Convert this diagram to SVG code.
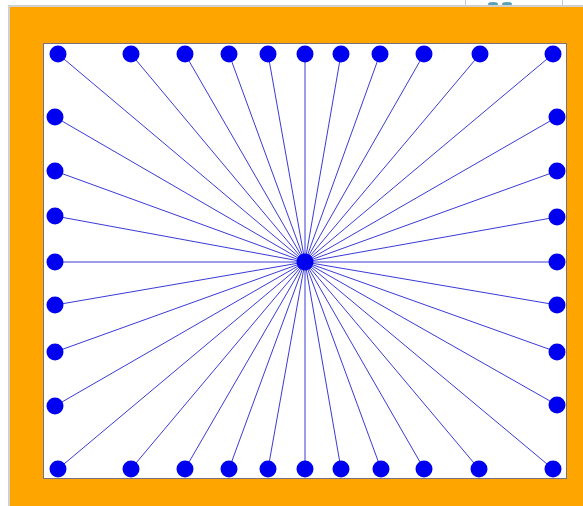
<svg xmlns="http://www.w3.org/2000/svg" width="583" height="506" viewBox="0 0 583 506">
<style>
.edge{stroke:#3a3ad8;stroke-width:1;fill:none}
.node{fill:#0000f0}
</style>
<rect x="0" y="0" width="583" height="506" fill="#ffffff"/>
<line x1="465.5" y1="0" x2="465.5" y2="6" stroke="#c8c8c8"/>
<line x1="562.5" y1="0" x2="562.5" y2="6" stroke="#c8c8c8"/>
<ellipse cx="493" cy="4" rx="5" ry="2" fill="#5aa0b8"/>
<ellipse cx="507" cy="4" rx="5" ry="2" fill="#5aa0b8"/>
<rect x="8" y="5" width="575" height="501" fill="#d0d0d0"/>
<rect x="10" y="7" width="573" height="499" fill="#ffa500"/>
<rect x="43.5" y="43.5" width="523" height="435" fill="#ffffff" stroke="#7a7080" stroke-width="1"/>
<g id="edges">
<line class="edge" x1="305" y1="262" x2="58" y2="54"/>
<line class="edge" x1="305" y1="262" x2="131" y2="54"/>
<line class="edge" x1="305" y1="262" x2="185" y2="54"/>
<line class="edge" x1="305" y1="262" x2="229" y2="54"/>
<line class="edge" x1="305" y1="262" x2="268" y2="54"/>
<line class="edge" x1="305" y1="262" x2="305" y2="54"/>
<line class="edge" x1="305" y1="262" x2="341" y2="54"/>
<line class="edge" x1="305" y1="262" x2="380" y2="54"/>
<line class="edge" x1="305" y1="262" x2="424" y2="54"/>
<line class="edge" x1="305" y1="262" x2="480" y2="54"/>
<line class="edge" x1="305" y1="262" x2="553" y2="54"/>
<line class="edge" x1="305" y1="262" x2="58" y2="469"/>
<line class="edge" x1="305" y1="262" x2="131" y2="469"/>
<line class="edge" x1="305" y1="262" x2="185" y2="469"/>
<line class="edge" x1="305" y1="262" x2="229" y2="469"/>
<line class="edge" x1="305" y1="262" x2="268" y2="469"/>
<line class="edge" x1="305" y1="262" x2="305" y2="469"/>
<line class="edge" x1="305" y1="262" x2="341" y2="469"/>
<line class="edge" x1="305" y1="262" x2="381" y2="469"/>
<line class="edge" x1="305" y1="262" x2="424" y2="469"/>
<line class="edge" x1="305" y1="262" x2="479" y2="469"/>
<line class="edge" x1="305" y1="262" x2="553" y2="469"/>
<line class="edge" x1="305" y1="262" x2="55" y2="117"/>
<line class="edge" x1="305" y1="262" x2="55" y2="171"/>
<line class="edge" x1="305" y1="262" x2="55" y2="216"/>
<line class="edge" x1="305" y1="262" x2="55" y2="262"/>
<line class="edge" x1="305" y1="262" x2="55" y2="305"/>
<line class="edge" x1="305" y1="262" x2="55" y2="352"/>
<line class="edge" x1="305" y1="262" x2="55" y2="406"/>
<line class="edge" x1="305" y1="262" x2="557" y2="117"/>
<line class="edge" x1="305" y1="262" x2="557" y2="171"/>
<line class="edge" x1="305" y1="262" x2="557" y2="217"/>
<line class="edge" x1="305" y1="262" x2="557" y2="262"/>
<line class="edge" x1="305" y1="262" x2="557" y2="305"/>
<line class="edge" x1="305" y1="262" x2="557" y2="352"/>
<line class="edge" x1="305" y1="262" x2="557" y2="405"/>
</g>
<g id="center"><circle class="node" cx="305" cy="262" r="8.5"/></g>
<g id="t1"><circle class="node" cx="58" cy="54" r="8.5"/></g>
<g id="t2"><circle class="node" cx="131" cy="54" r="8.5"/></g>
<g id="t3"><circle class="node" cx="185" cy="54" r="8.5"/></g>
<g id="t4"><circle class="node" cx="229" cy="54" r="8.5"/></g>
<g id="t5"><circle class="node" cx="268" cy="54" r="8.5"/></g>
<g id="t6"><circle class="node" cx="305" cy="54" r="8.5"/></g>
<g id="t7"><circle class="node" cx="341" cy="54" r="8.5"/></g>
<g id="t8"><circle class="node" cx="380" cy="54" r="8.5"/></g>
<g id="t9"><circle class="node" cx="424" cy="54" r="8.5"/></g>
<g id="t10"><circle class="node" cx="480" cy="54" r="8.5"/></g>
<g id="t11"><circle class="node" cx="553" cy="54" r="8.5"/></g>
<g id="b1"><circle class="node" cx="58" cy="469" r="8.5"/></g>
<g id="b2"><circle class="node" cx="131" cy="469" r="8.5"/></g>
<g id="b3"><circle class="node" cx="185" cy="469" r="8.5"/></g>
<g id="b4"><circle class="node" cx="229" cy="469" r="8.5"/></g>
<g id="b5"><circle class="node" cx="268" cy="469" r="8.5"/></g>
<g id="b6"><circle class="node" cx="305" cy="469" r="8.5"/></g>
<g id="b7"><circle class="node" cx="341" cy="469" r="8.5"/></g>
<g id="b8"><circle class="node" cx="381" cy="469" r="8.5"/></g>
<g id="b9"><circle class="node" cx="424" cy="469" r="8.5"/></g>
<g id="b10"><circle class="node" cx="479" cy="469" r="8.5"/></g>
<g id="b11"><circle class="node" cx="553" cy="469" r="8.5"/></g>
<g id="l1"><circle class="node" cx="55" cy="117" r="8.5"/></g>
<g id="l2"><circle class="node" cx="55" cy="171" r="8.5"/></g>
<g id="l3"><circle class="node" cx="55" cy="216" r="8.5"/></g>
<g id="l4"><circle class="node" cx="55" cy="262" r="8.5"/></g>
<g id="l5"><circle class="node" cx="55" cy="305" r="8.5"/></g>
<g id="l6"><circle class="node" cx="55" cy="352" r="8.5"/></g>
<g id="l7"><circle class="node" cx="55" cy="406" r="8.5"/></g>
<g id="r1"><circle class="node" cx="557" cy="117" r="8.5"/></g>
<g id="r2"><circle class="node" cx="557" cy="171" r="8.5"/></g>
<g id="r3"><circle class="node" cx="557" cy="217" r="8.5"/></g>
<g id="r4"><circle class="node" cx="557" cy="262" r="8.5"/></g>
<g id="r5"><circle class="node" cx="557" cy="305" r="8.5"/></g>
<g id="r6"><circle class="node" cx="557" cy="352" r="8.5"/></g>
<g id="r7"><circle class="node" cx="557" cy="405" r="8.5"/></g>
</svg>
